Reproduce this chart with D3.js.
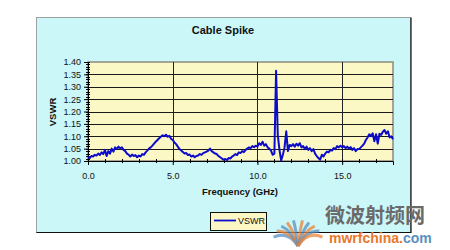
<!DOCTYPE html>
<html>
<head>
<meta charset="utf-8">
<script src="https://cdn.jsdelivr.net/npm/d3@7"></script>
<style>
  body { margin: 0; background: #fff; }
  svg { display: block; font-family: "Liberation Sans", Arial, sans-serif; }
</style>
</head>
<body>
<div id="chart"></div>
<script>
// sweep: 0.0 .. 18.0 GHz, one reading every 0.1 GHz
var sweepStart = 0, sweepStep = 0.1;
var vswr = [
  1.015, 1.012, 1.020, 1.018, 1.025, 1.022, 1.030, 1.024, 1.035, 1.028,
  1.045, 1.020, 1.040, 1.030, 1.050, 1.038, 1.055, 1.048, 1.058, 1.052,
  1.055, 1.045, 1.040, 1.030, 1.025, 1.018, 1.026, 1.020, 1.024, 1.015,
  1.022, 1.018, 1.028, 1.025, 1.035, 1.042, 1.050, 1.055, 1.062, 1.070,
  1.078, 1.085, 1.092, 1.098, 1.104, 1.100, 1.106, 1.098, 1.102, 1.090,
  1.085, 1.075, 1.068, 1.058, 1.048, 1.042, 1.036, 1.030, 1.032, 1.024,
  1.026, 1.018, 1.022, 1.015, 1.020, 1.022, 1.028, 1.025, 1.032, 1.035,
  1.038, 1.042, 1.050, 1.040, 1.035, 1.030, 1.028, 1.020, 1.015, 1.010,
  1.005, 1.008, 1.004, 1.012, 1.010, 1.018, 1.022, 1.028, 1.024, 1.035,
  1.032, 1.040, 1.036, 1.045, 1.050, 1.055, 1.052, 1.060, 1.056, 1.062,
  1.058, 1.072, 1.065, 1.078, 1.062, 1.068, 1.055, 1.050, 1.042, 1.025,
  1.030, 1.365, 1.105, 1.045, 1.002, 1.025, 1.055, 1.120, 1.040, 1.065,
  1.060, 1.068, 1.058, 1.070, 1.062, 1.072, 1.055, 1.060, 1.048, 1.058,
  1.045, 1.052, 1.040, 1.048, 1.030, 1.020, 1.012, 1.005, 1.025, 1.018,
  1.030, 1.038, 1.035, 1.045, 1.042, 1.052, 1.048, 1.060, 1.055, 1.062,
  1.055, 1.060, 1.052, 1.058, 1.050, 1.056, 1.045, 1.052, 1.040, 1.048,
  1.048, 1.055, 1.062, 1.070, 1.085, 1.095, 1.108, 1.100, 1.112, 1.080,
  1.108, 1.070, 1.110, 1.105, 1.118, 1.125, 1.110, 1.120, 1.095, 1.100,
  1.088
];
var xTicks = [0, 5, 10, 15];
var yTicks = [1.00, 1.05, 1.10, 1.15, 1.20, 1.25, 1.30, 1.35, 1.40];

var W = 450, H = 250;
var plot = {left: 88, right: 393, top: 62, bottom: 161};

var svg = d3.select("#chart").append("svg").attr("width", W).attr("height", H);

// chart area
svg.append("rect").attr("x", 36.5).attr("y", 17.5).attr("width", 374).attr("height", 215)
  .style("fill", "#cbf7f9").style("stroke", "#a0a0a0");
svg.append("path").attr("d", "M411,17.5V232.5H36.5")
  .style("fill", "none").style("stroke", "#111").style("stroke-width", 1.2);

var x = d3.scaleLinear().domain([0, 18]).range([plot.left, plot.right]);
var y = d3.scaleLinear().domain([1.0, 1.4]).range([plot.bottom, plot.top]);

svg.append("rect").attr("x", plot.left).attr("y", plot.top)
  .attr("width", plot.right - plot.left).attr("height", plot.bottom - plot.top)
  .style("fill", "#fcf8c6").style("stroke", "#8a8a80").style("stroke-width", 1.5);

// gridlines
svg.append("g").selectAll("line").data(yTicks.slice(1, -1)).enter().append("line")
  .attr("x1", plot.left).attr("x2", plot.right)
  .attr("y1", function(d){ return Math.round(y(d)) + 0.5; })
  .attr("y2", function(d){ return Math.round(y(d)) + 0.5; })
  .style("stroke", "#1a1a1a").style("stroke-width", 1);
svg.append("g").selectAll("line").data(xTicks.slice(1)).enter().append("line")
  .attr("x1", function(d){ return Math.round(x(d)) + 0.5; })
  .attr("x2", function(d){ return Math.round(x(d)) + 0.5; })
  .attr("y1", plot.top).attr("y2", plot.bottom)
  .style("stroke", "#222").style("stroke-width", 1);

// axes
var yAxis = d3.axisLeft(y).tickValues(yTicks).tickFormat(d3.format(".2f")).tickSize(4).tickPadding(3);
var gy = svg.append("g").attr("transform", "translate(" + plot.left + ",0)").call(yAxis);
var xAxis = d3.axisBottom(x).tickValues(xTicks).tickFormat(d3.format(".1f")).tickSize(4).tickPadding(8);
var gx = svg.append("g").attr("transform", "translate(0," + plot.bottom + ")").call(xAxis);
[gx, gy].forEach(function(g){
  g.select(".domain").style("stroke", "#000");
  g.selectAll(".tick line").style("stroke", "#000");
  g.selectAll("text").style("font-size", "9px").style("fill", "#111")
    .style("font-family", "'Liberation Sans', Arial, sans-serif");
});

// minor ticks
svg.append("g").selectAll("line").data(d3.range(1.0, 1.4001, 0.01)).enter().append("line")
  .attr("x1", plot.left - 2).attr("x2", plot.left + 2)
  .attr("y1", function(d){ return Math.round(y(d)) + 0.5; })
  .attr("y2", function(d){ return Math.round(y(d)) + 0.5; })
  .style("stroke", "#000");
svg.append("g").selectAll("line").data(d3.range(1, 18, 1)).enter().append("line")
  .attr("y1", plot.bottom - 2).attr("y2", plot.bottom + 2)
  .attr("x1", function(d){ return Math.round(x(d)) + 0.5; })
  .attr("x2", function(d){ return Math.round(x(d)) + 0.5; })
  .style("stroke", "#000");

// trace
var line = d3.line()
  .x(function(d, i){ return x(sweepStart + i * sweepStep); })
  .y(function(d){ return y(d); });
svg.append("path").datum(vswr).attr("d", line)
  .style("fill", "none").style("stroke", "#0c0cc8").style("stroke-width", 2)
  .style("stroke-linejoin", "round");

// titles
svg.append("text").attr("x", 223).attr("y", 34).attr("text-anchor", "middle")
  .style("font-size", "11px").style("font-weight", "bold").style("fill", "#111").text("Cable Spike");
svg.append("text").attr("x", 240).attr("y", 195).attr("text-anchor", "middle")
  .style("font-size", "9.5px").style("font-weight", "bold").style("fill", "#111").text("Frequency (GHz)");
svg.append("text").attr("transform", "translate(56,112) rotate(-90)").attr("text-anchor", "middle")
  .style("font-size", "9.5px").style("font-weight", "bold").style("fill", "#111").text("VSWR");

// legend
var lg = svg.append("g").attr("transform", "translate(210,212)");
lg.append("rect").attr("x", 0.5).attr("y", 0.5).attr("width", 56).attr("height", 18)
  .style("fill", "#fcf8c6").style("stroke", "#111");
lg.append("line").attr("x1", 4).attr("x2", 26).attr("y1", 8.5).attr("y2", 8.5)
  .style("stroke", "#0c0cc8").style("stroke-width", 1.8);
lg.append("text").attr("x", 28).attr("y", 12).style("font-size", "9px").style("fill", "#111").text("VSWR");

// watermark
var wm = svg.append("g");
var fan = [[-70, "#5b8fc0"], [-55, "#e8863a"], [-40, "#5b8fc0"], [-25, "#e8863a"], [-10, "#5b8fc0"],
           [10, "#e8863a"], [25, "#5b8fc0"], [40, "#e8863a"], [55, "#5b8fc0"], [70, "#e8863a"]];
wm.selectAll("path").data(fan).enter().append("path")
  .attr("d", function(d){
    var a = d[0] * Math.PI / 180, r = 26;
    return "M298,246Q" + (298 + Math.sin(a) * r * 0.4) + "," + (246 - r * 0.6) + " " +
      (298 + Math.sin(a) * r) + "," + (246 - Math.cos(a) * r);
  })
  .style("fill", "none").style("stroke", function(d){ return d[1]; })
  .style("stroke-width", 3).style("opacity", 0.75);
wm.append("text").attr("x", 325).attr("y", 223)
  .style("font-family", "'Noto Sans CJK SC', sans-serif").style("font-size", "20px").style("font-weight", "bold")
  .style("fill", "#6a6a6a").text("微波射频网");
var t2 = wm.append("text").attr("x", 329).attr("y", 243)
  .style("font-size", "14px").style("font-weight", "bold");
t2.append("tspan").style("fill", "#e8782a").text("mwrfchina.");
t2.append("tspan").style("fill", "#5b8fc0").text("com");
</script>
</body>
</html>
